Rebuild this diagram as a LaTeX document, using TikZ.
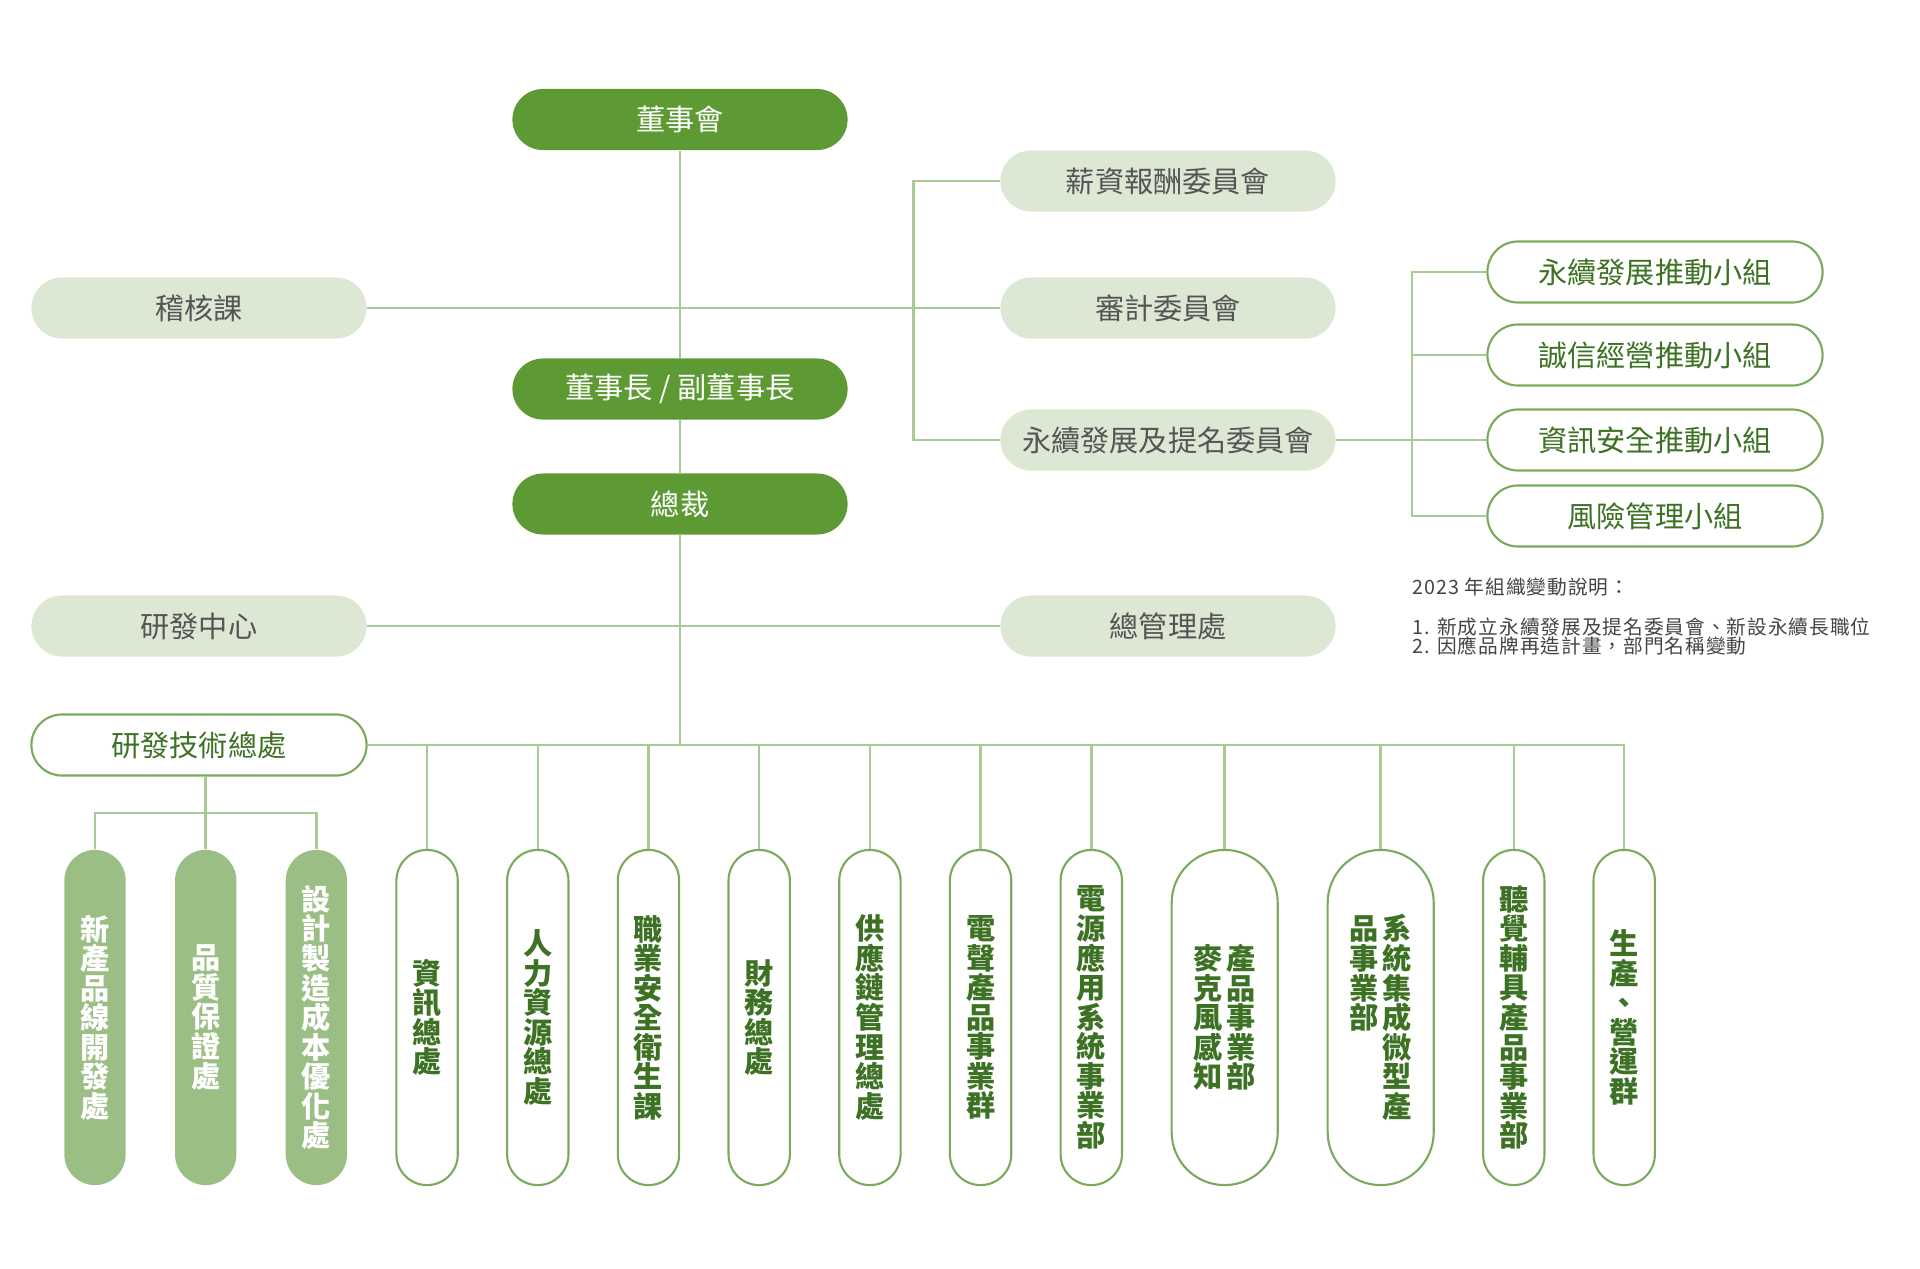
\documentclass[tikz,border=0pt]{standalone}
\usepackage{fontspec}
\setmainfont{Noto Sans CJK TC}
\newfontfamily\notefont{Noto Sans CJK TC}[LetterSpace=5]

\definecolor{dkgreen}{HTML}{5D9A34}
\definecolor{mdgreen}{HTML}{9BBE85}
\definecolor{ltgreen}{HTML}{DDE8D4}
\definecolor{lngreen}{HTML}{A8CA94}
\definecolor{olgreen}{HTML}{7AAB5C}
\definecolor{txgreen}{HTML}{3D7224}
\definecolor{txgray}{HTML}{555555}
\definecolor{notegray}{HTML}{444444}

% characters stacked top to bottom
\makeatletter
\newcommand\vtxt[1]{\vtop{\baselineskip=8.4pt\lineskiplimit=-20pt
  \@tfor\vt@ch:=#1\do{\hbox to 8.3pt{\hss\vt@ch\hss}}}}
\makeatother

\begin{document}
\begin{tikzpicture}[x=0.01cm,y=-0.01cm,
  pill/.style={rounded corners=0.305cm,minimum width=3.35cm,minimum height=0.61cm,
    inner sep=0pt,font=\fontsize{8.3pt}{10pt}\selectfont},
  dark/.style={pill,fill=dkgreen,text=white},
  light/.style={pill,fill=ltgreen,text=txgray},
  open/.style={pill,draw=olgreen,line width=0.6pt,fill=white,text=txgreen},
  col/.style={rounded corners=0.3065cm,minimum width=0.613cm,minimum height=3.35cm,
    inner sep=0pt,font=\bfseries\fontsize{8.3pt}{8.4pt}\selectfont},
  colfill/.style={col,fill=mdgreen,text=white},
  colopen/.style={col,draw=olgreen,line width=0.6pt,text=txgreen},
  wide/.style={minimum width=1.06cm,rounded corners=0.53cm},
  note/.style={anchor=base west,inner sep=0pt,text=notegray,font=\notefont\fontsize{5.6pt}{6pt}\selectfont},
  link/.style={draw=lngreen,line width=0.7pt}]

  \useasboundingbox (0,0) rectangle (1920,1269);

  % top of the chart
  \node[dark] (board) at (680,119.5) {董事會};
  \node[dark] (chair) at (680,389) {董事長 / 副董事長};
  \node[dark] (ceo) at (680,504) {總裁};

  \node[light] (audit) at (199,308) {稽核課};
  \node[light] (rdc) at (199,626) {研發中心};
  \node[open] (rdtech) at (199,745) {研發技術總處};

  \node[light] (paycom) at (1168,181) {薪資報酬委員會};
  \node[light] (auditcom) at (1168,308) {審計委員會};
  \node[light] (esgcom) at (1168,440) {永續發展及提名委員會};
  \node[light] (admin) at (1168,626) {總管理處};

  \node[open] (grp1) at (1655,272) {永續發展推動小組};
  \node[open] (grp2) at (1655,355) {誠信經營推動小組};
  \node[open] (grp3) at (1655,440) {資訊安全推動小組};
  \node[open] (grp4) at (1655,516) {風險管理小組};

  \node[note] (note0) at (1412,594.5) {2023 年組織變動說明：};
  \node[note] (note1) at (1412,634) {1. 新成立永續發展及提名委員會、新設永續長職位};
  \node[note] (note2) at (1412,653) {2. 因應品牌再造計畫，部門名稱變動};

  % departments
  \node[colfill] (c1) at (95,1017.5) {\vtxt{新產品線開發處}};
  \node[colfill] (c2) at (205.7,1017.5) {\vtxt{品質保證處}};
  \node[colfill] (c3) at (316.4,1017.5) {\vtxt{設計製造成本優化處}};
  \node[colopen] (c4) at (427.1,1017.5) {\vtxt{資訊總處}};
  \node[colopen] (c5) at (537.8,1017.5) {\vtxt{人力資源總處}};
  \node[colopen] (c6) at (648.5,1017.5) {\vtxt{職業安全衛生課}};
  \node[colopen] (c7) at (759.2,1017.5) {\vtxt{財務總處}};
  \node[colopen] (c8) at (869.9,1017.5) {\vtxt{供應鏈管理總處}};
  \node[colopen] (c9) at (980.6,1017.5) {\vtxt{電聲產品事業群}};
  \node[colopen] (c10) at (1091.3,1017.5) {\vtxt{電源應用系統事業部}};
  \node[colopen,wide] (c11) at (1224.7,1017.5)
    {\hbox{\vtxt{麥克風感知}\hspace{1.3pt}\vtxt{產品事業部}}};
  \node[colopen,wide] (c12) at (1380.7,1017.5)
    {\hbox{\vtxt{品事業部}\hspace{1.3pt}\vtxt{系統集成微型產}}};
  \node[colopen] (c13) at (1513.8,1017.5) {\vtxt{聽覺輔具產品事業部}};
  \node[colopen] (c14) at (1624.2,1017.5) {\vtxt{生產、營運群}};

  \coordinate (cbrk) at (913.5,308);
  \coordinate (gbrk) at (1412,440);
  \coordinate (sub) at (205.7,813);

  % connectors
  \draw[link] (board) -- (chair);
  \draw[link] (chair) -- (ceo);
  \draw[link] (ceo) -- (ceo |- rdtech);
  \draw[link] (audit) -- (auditcom);
  \draw[link] (paycom.west) -| (cbrk) |- (esgcom.west);
  \draw[link] (esgcom) -- (grp3);
  \draw[link] (grp1.west) -| (gbrk) |- (grp4.west);
  \draw[link] (grp2.west) -- (grp2.west -| gbrk);
  \draw[link] (rdc) -- (admin);

  \draw[link] (rdtech) -- (rdtech -| c14) -- (c14);
  \foreach \k in {c4,c5,c6,c7,c8,c9,c10,c11,c12,c13}
    \draw[link] (\k |- rdtech) -- (\k);
  \draw[link] (rdtech.south -| c2) -- (c2);
  \draw[link] (c1) |- (sub) -| (c3);

\end{tikzpicture}
\end{document}
